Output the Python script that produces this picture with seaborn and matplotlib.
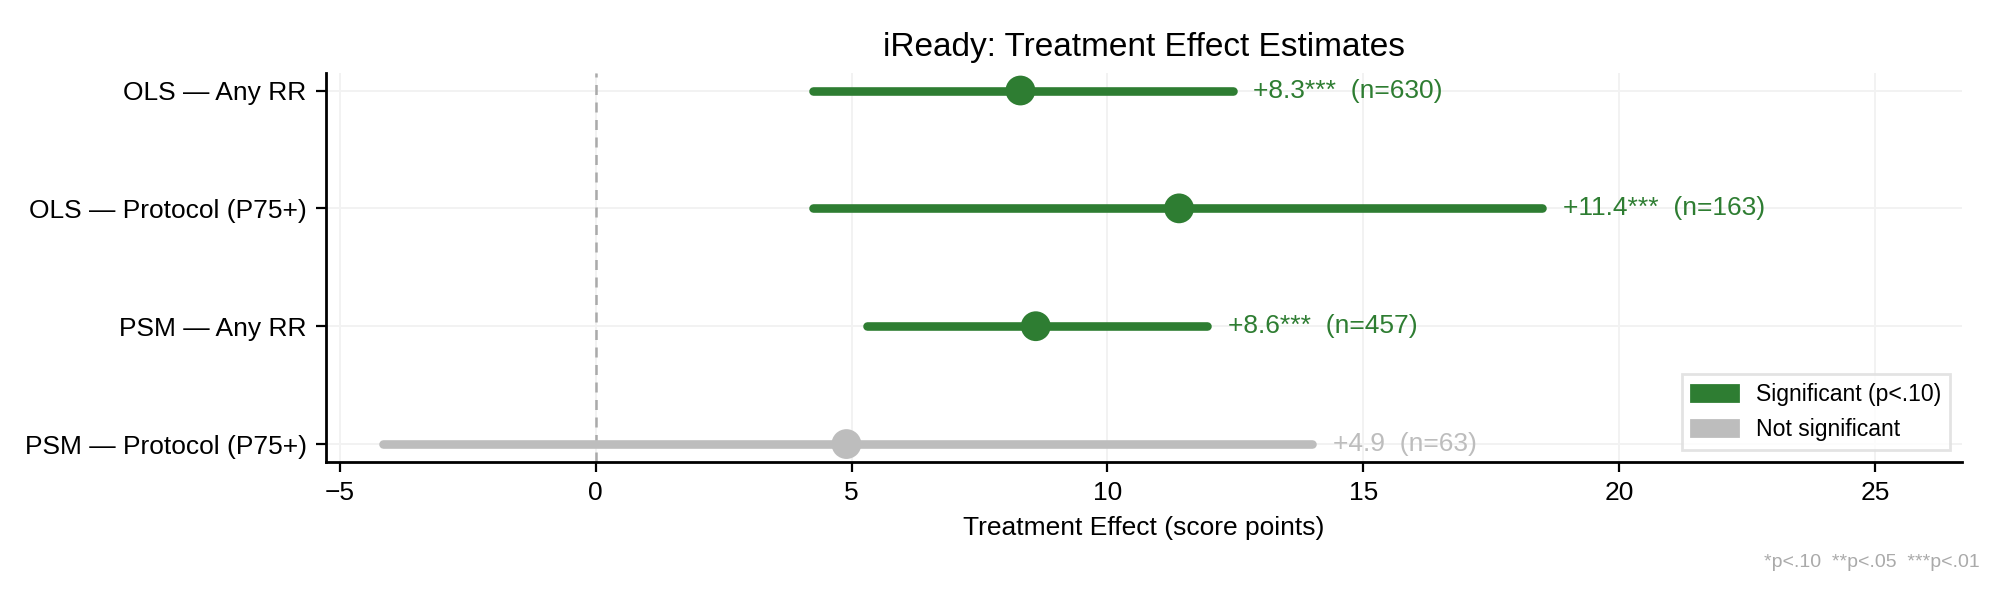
import numpy as np
import pandas as pd
import seaborn as sns
import matplotlib.pyplot as plt
from matplotlib.patches import Patch

# Dati delle stime
labels = ["OLS — Any RR", "OLS — Protocol (P75+)", "PSM — Any RR", "PSM — Protocol (P75+)"]
estimates = [8.3, 11.4, 8.6, 4.9]
ci_low = [4.25, 4.25, 5.3, -4.15]
ci_high = [12.45, 18.5, 11.95, 14.0]
stars = ["***", "***", "***", ""]
n_obs = [630, 163, 457, 63]
significant = [True, True, True, False]

GREEN = "#2e7d32"
GREY = "#bdbdbd"

df = pd.DataFrame({
    "label": labels,
    "estimate": estimates,
    "lo": ci_low,
    "hi": ci_high,
    "stars": stars,
    "n": n_obs,
    "sig": ["Significant (p<.10)" if s else "Not significant" for s in significant],
})
df["row"] = np.arange(len(df))

sns.set_style("ticks")
plt.rcParams["font.family"] = ["Liberation Sans", "DejaVu Sans"]
plt.rcParams["text.color"] = "black"
plt.rcParams["axes.labelcolor"] = "black"
plt.rcParams["xtick.color"] = "black"
plt.rcParams["ytick.color"] = "black"

fig, ax = plt.subplots(figsize=(10, 3.01), dpi=200)
fig.subplots_adjust(left=0.163, right=0.981, top=0.879, bottom=0.233)

palette = {"Significant (p<.10)": GREEN, "Not significant": GREY}

# intervalli di confidenza
for _, r in df.iterrows():
    ax.hlines(r["row"], r["lo"], r["hi"], color=palette[r["sig"]], lw=3.1,
              capstyle="round", zorder=2)

sns.scatterplot(data=df, x="estimate", y="row", hue="sig", palette=palette,
                s=115, edgecolor="none", legend=False, zorder=3, ax=ax)

# etichette di testo
for _, r in df.iterrows():
    ax.text(r["hi"] + 0.4, r["row"], f"+{r['estimate']:.1f}{r['stars']}  (n={r['n']})",
            color=palette[r["sig"]], fontsize=9.5, va="center", ha="left")

ax.axvline(0, color="#aaaaaa", lw=0.9, ls=(0, (4, 3)), zorder=1)

ax.set_yticks(df["row"])
ax.set_yticklabels(df["label"], fontsize=9.5)
ax.set_ylim(3.15, -0.15)
ax.set_xlim(-5.27, 26.7)
ax.set_xticks([-5, 0, 5, 10, 15, 20, 25])
ax.tick_params(axis="x", labelsize=9.5)
ax.grid(True, color="#f2f2f2", lw=0.7, zorder=0)
ax.set_axisbelow(True)
ax.set_xlabel("Treatment Effect (score points)", fontsize=9.5)
ax.set_ylabel("")
ax.set_title("iReady: Treatment Effect Estimates", fontsize=12)
sns.despine(ax=ax)
for sp in ["left", "bottom"]:
    ax.spines[sp].set_linewidth(1.0)
    ax.spines[sp].set_color("black")

handles = [Patch(color=GREEN, label="Significant (p<.10)"),
           Patch(color=GREY, label="Not significant")]
ax.legend(handles=handles, loc="lower right", fontsize=8.3, frameon=True,
          fancybox=False, edgecolor="#dddddd")

fig.text(0.99, 0.066, "*p<.10  **p<.05  ***p<.01", ha="right", va="center",
         fontsize=7, color="#aaaaaa")

fig.savefig("out.png", dpi=200)
